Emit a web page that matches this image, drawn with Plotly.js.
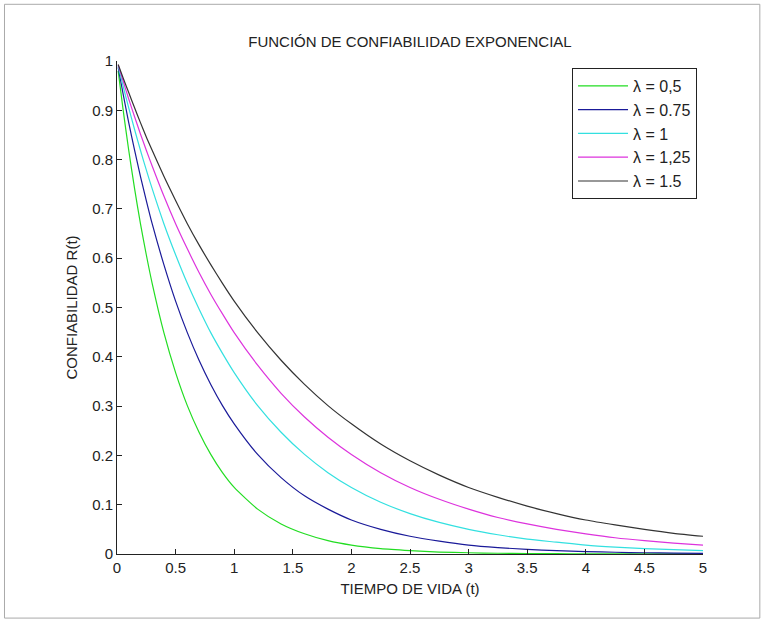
<!DOCTYPE html>
<html>
<head>
<meta charset="utf-8">
<script src="https://cdn.plot.ly/plotly-3.0.1.min.js"></script>
<style>html,body{margin:0;padding:0;background:#fff;}#chart{width:773px;height:627px;}</style>
</head>
<body>
<div id="chart"></div>
<script>
// Tiempo de vida (t)
var tiempo = [0.01, 0.05, 0.1, 0.15, 0.2, 0.25, 0.3, 0.4, 0.5, 0.6, 0.7, 0.8, 0.9, 1.0, 1.2, 1.4, 1.6, 1.8, 2.0, 2.25, 2.5, 2.75, 3.0, 3.25, 3.5, 3.75, 4.0, 4.25, 4.5, 4.75, 5.0];

// Confiabilidad R(t), one array per curve
var rLambda050 = [0.980, 0.905, 0.819, 0.741, 0.670, 0.607, 0.549, 0.449, 0.368, 0.301, 0.247, 0.202, 0.165, 0.135, 0.091, 0.061, 0.041, 0.027, 0.018, 0.011, 0.007, 0.004, 0.0025, 0.0015, 0.001, 0.0006, 0.0003, 0.0002, 0.0001, 0.0001, 0.0000];
var rLambda075 = [0.987, 0.936, 0.875, 0.819, 0.766, 0.717, 0.670, 0.587, 0.513, 0.449, 0.393, 0.344, 0.301, 0.264, 0.202, 0.155, 0.118, 0.091, 0.069, 0.050, 0.036, 0.026, 0.018, 0.013, 0.0094, 0.0067, 0.0048, 0.0035, 0.0025, 0.0018, 0.0013];
var rLambda100 = [0.990, 0.951, 0.905, 0.861, 0.819, 0.779, 0.741, 0.670, 0.607, 0.549, 0.497, 0.449, 0.407, 0.368, 0.301, 0.247, 0.202, 0.165, 0.135, 0.105, 0.082, 0.064, 0.050, 0.039, 0.030, 0.024, 0.018, 0.014, 0.011, 0.0087, 0.0067];
var rLambda125 = [0.992, 0.961, 0.923, 0.887, 0.852, 0.819, 0.787, 0.726, 0.670, 0.619, 0.571, 0.527, 0.487, 0.449, 0.383, 0.326, 0.278, 0.237, 0.202, 0.165, 0.135, 0.111, 0.091, 0.074, 0.061, 0.050, 0.041, 0.033, 0.027, 0.022, 0.018];
var rLambda150 = [0.993, 0.967, 0.936, 0.905, 0.875, 0.846, 0.819, 0.766, 0.717, 0.670, 0.627, 0.587, 0.549, 0.513, 0.449, 0.393, 0.344, 0.301, 0.264, 0.223, 0.189, 0.160, 0.135, 0.115, 0.097, 0.082, 0.069, 0.059, 0.050, 0.042, 0.036];

var seriesNames = ["λ = 0,5", "λ = 0.75", "λ = 1", "λ = 1,25", "λ = 1.5"];
var seriesValues = [rLambda050, rLambda075, rLambda100, rLambda125, rLambda150];
var seriesColors = ["#22dd22", "#1a1a99", "#33e0e0", "#dd33dd", "#333333"];

var xTicks = [0, 0.5, 1, 1.5, 2, 2.5, 3, 3.5, 4, 4.5, 5];
var yTicks = [0, 0.1, 0.2, 0.3, 0.4, 0.5, 0.6, 0.7, 0.8, 0.9, 1];

var traces = seriesNames.map(function (n, i) {
  return {
    x: tiempo, y: seriesValues[i], name: n, type: "scatter", mode: "lines",
    line: {color: seriesColors[i], width: 1.2, shape: "spline", smoothing: 0.6},
    legendgroup: "g" + i, cliponaxis: false
  };
});

var fontFam = "Liberation Sans, Arial, sans-serif";
var layout = {
  width: 773, height: 627,
  margin: {l: 117, r: 70, t: 61, b: 73, pad: 0},
  paper_bgcolor: "#ffffff", plot_bgcolor: "#ffffff",
  font: {family: fontFam, size: 15, color: "#222"},
  title: {text: "FUNCIÓN DE CONFIABILIDAD EXPONENCIAL", font: {family: fontFam, size: 15, color: "#222"},
          x: 0.5, xref: "paper", y: 1, yref: "paper", yanchor: "bottom", pad: {b: 14}},
  xaxis: {
    range: [0, 5], tickvals: xTicks, ticktext: xTicks.map(String),
    ticks: "inside", ticklen: 5, tickcolor: "#222", tickwidth: 1,
    showline: true, linecolor: "#222", linewidth: 1, showgrid: false, zeroline: false,
    tickfont: {size: 15}, mirror: false,
    title: {text: "TIEMPO DE VIDA (t)", font: {size: 15}, standoff: 8}
  },
  yaxis: {
    range: [0, 1], tickvals: yTicks, ticktext: yTicks.map(String),
    ticks: "inside", ticklen: 5, tickcolor: "#222", tickwidth: 1,
    showline: true, linecolor: "#222", linewidth: 1, showgrid: false, zeroline: false,
    tickfont: {size: 15},
    title: {text: "CONFIABILIDAD R(t)", font: {size: 15}, standoff: 10}
  },
  showlegend: true,
  legend: {
    x: 0.9898, xanchor: "right", y: 0.986, yanchor: "top",
    bgcolor: "#ffffff", bordercolor: "#222", borderwidth: 1,
    font: {size: 16, family: fontFam, color: "#222"},
    tracegroupgap: 1, itemwidth: 50, traceorder: "normal"
  },
  shapes: [{
    type: "rect", xref: "paper", yref: "paper",
    x0: -0.192, x1: 1.097, y0: -0.13, y1: 1.115,
    line: {color: "#aaaaaa", width: 1}, fillcolor: "rgba(0,0,0,0)", layer: "below"
  }]
};

Plotly.newPlot("chart", traces, layout, {displayModeBar: false, staticPlot: true});
</script>
</body>
</html>
